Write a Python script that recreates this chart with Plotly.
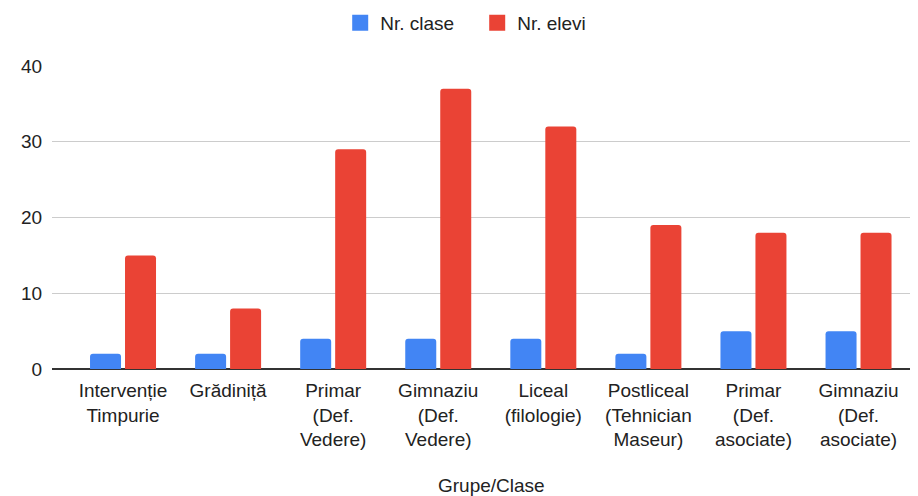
import plotly.graph_objects as go

categories = [
    "Intervenție<br>Timpurie",
    "Grădiniță",
    "Primar<br>(Def.<br>Vedere)",
    "Gimnaziu<br>(Def.<br>Vedere)",
    "Liceal<br>(filologie)",
    "Postliceal<br>(Tehnician<br>Maseur)",
    "Primar<br>(Def.<br>asociate)",
    "Gimnaziu<br>(Def.<br>asociate)",
]
series_names = ["Nr. clase", "Nr. elevi"]
nr_clase = [2, 2, 4, 4, 4, 2, 5, 5]
nr_elevi = [15, 8, 29, 37, 32, 19, 18, 18]
y_ticks = [0, 10, 20, 30, 40]

FONT = "Liberation Sans, Arial, sans-serif"
TXT = "#222222"
FS = 19
COLORS = ["#4285F4", "#EA4335"]

xs = list(range(len(categories)))
fig = go.Figure()
for name, vals, col in zip(series_names, [nr_clase, nr_elevi], COLORS):
    fig.add_trace(go.Bar(x=xs, y=vals, name=name, showlegend=False,
                         marker=dict(color=col, line=dict(width=0))))
# legend proxies (larger square swatches)
for name, col in zip(series_names, COLORS):
    fig.add_trace(go.Scatter(x=[None], y=[None], mode="markers", name=name,
                             marker=dict(symbol="square", size=19, color=col)))

fig.update_layout(
    width=910, height=488,
    margin=dict(l=44, r=0, t=58, b=127, autoexpand=False),
    paper_bgcolor="white", plot_bgcolor="white",
    barmode="group", bargap=0.334, bargroupgap=0.114,
    barcornerradius=3,
    font=dict(family=FONT, size=FS, color=TXT),
    showlegend=True,
    legend=dict(orientation="h", x=0.491, xanchor="center", y=1.142, yanchor="middle",
                font=dict(size=FS, color=TXT), itemwidth=30, traceorder="normal",
                entrywidth=92, entrywidthmode="pixels"),
    xaxis=dict(
        tickmode="array", tickvals=xs, ticktext=categories,
        range=[-0.676, 7.566], showgrid=False, zeroline=False, automargin=False,
        showline=False, ticks="outside", ticklen=4, tickcolor="rgba(0,0,0,0)",
        tickfont=dict(size=FS, color=TXT),
    ),
    yaxis=dict(
        range=[0, 40], tickvals=y_ticks, showgrid=True, gridcolor="#cccccc", gridwidth=1,
        zeroline=True, zerolinecolor="#333333", zerolinewidth=1.5, automargin=False,
        showline=False, ticks="outside", ticklen=5, tickcolor="rgba(0,0,0,0)",
        tickfont=dict(size=FS, color=TXT),
    ),
    annotations=[dict(text="Grupe/Clase", x=0.507, xref="paper", y=-0.383, yref="paper",
                      yanchor="middle", showarrow=False, font=dict(size=FS, color=TXT))],
)

fig.write_html("out.html")
